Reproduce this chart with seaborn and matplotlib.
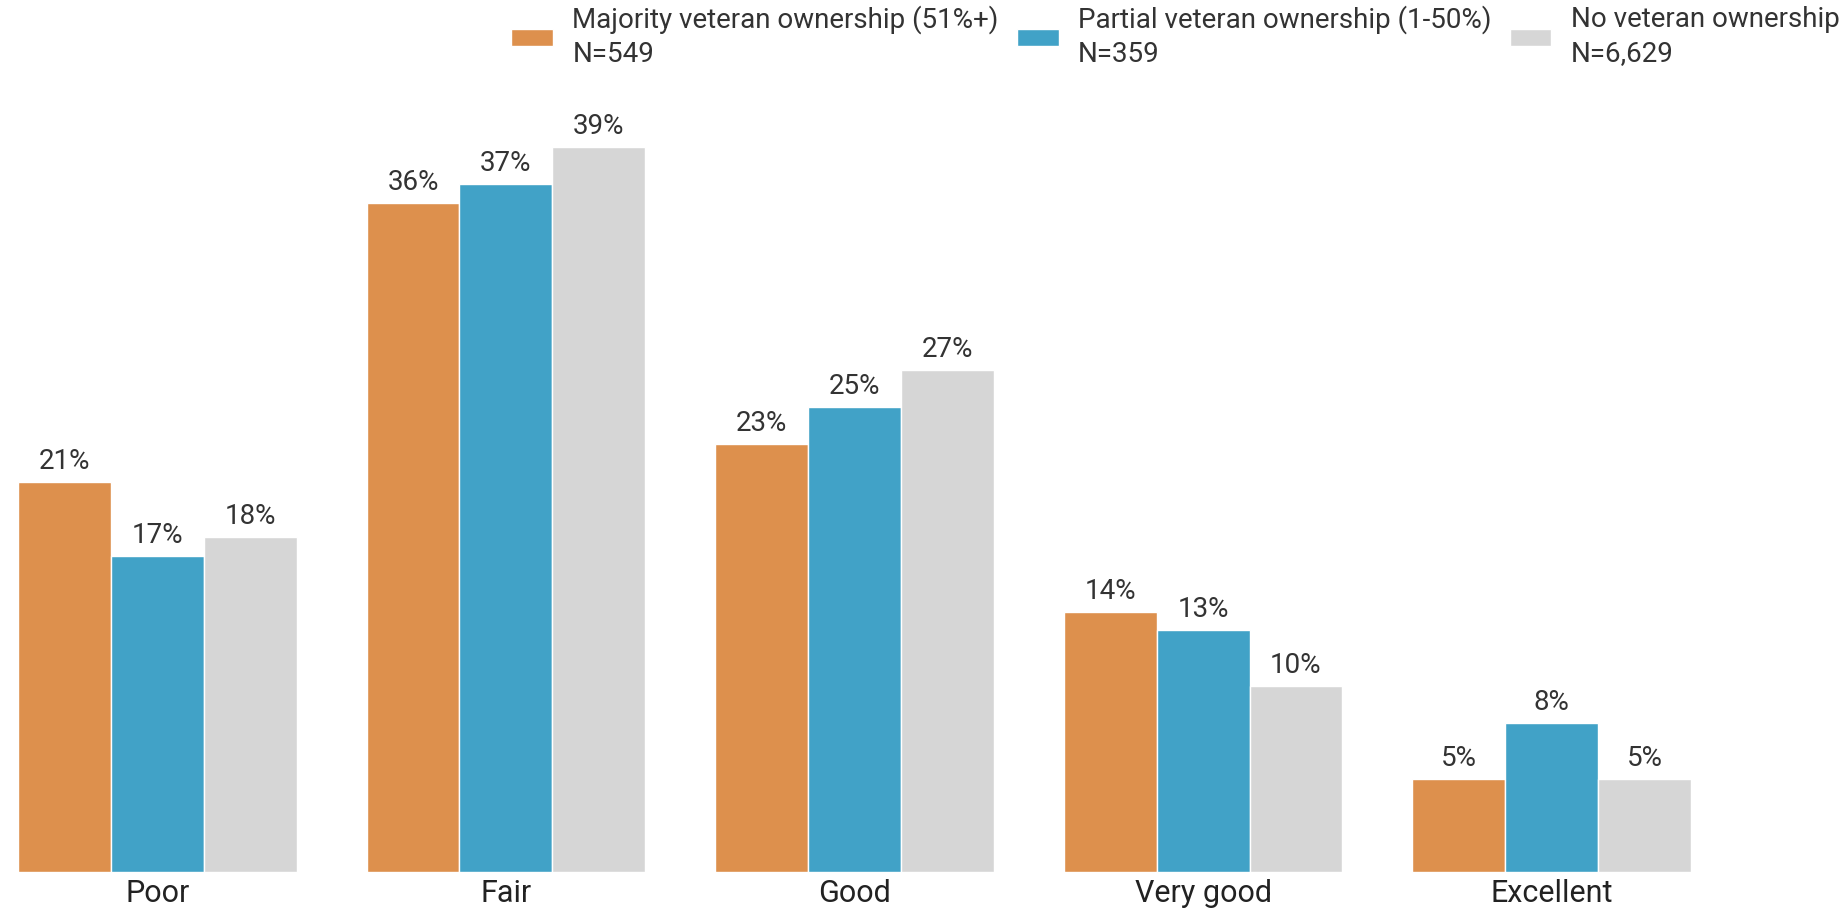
import numpy as np
import pandas as pd
import matplotlib
matplotlib.use("Agg")
import matplotlib.pyplot as plt
import seaborn as sns

# data
ratings = ["Poor", "Fair", "Good", "Very good", "Excellent"]
groups = [
    "Majority veteran ownership (51%+)\nN=549",
    "Partial veteran ownership (1-50%)\nN=359",
    "No veteran ownership\nN=6,629",
]
majority = [21, 36, 23, 14, 5]
partial = [17, 37, 25, 13, 8]
none_vet = [18, 39, 27, 10, 5]
colors = ["#DD904D", "#41A2C7", "#D6D6D6"]

rows = []
for g, vals in zip(groups, [majority, partial, none_vet]):
    for r, v in zip(ratings, vals):
        rows.append({"rating": r, "group": g, "pct": v})
df = pd.DataFrame(rows)

sns.set_style("white")
plt.rcParams["font.family"] = ["Roboto", "DejaVu Sans"]

fig = plt.figure(figsize=(18.45, 9.14), dpi=100)
ax = fig.add_axes([18 / 1845, 42 / 914, 1673 / 1845, 40 * 18.59 / 914])

sns.barplot(data=df, x="rating", y="pct", hue="group", order=ratings,
            hue_order=groups, palette=colors, saturation=1, width=0.8,
            edgecolor="white", linewidth=1, ax=ax)

for c in ax.containers:
    ax.bar_label(c, fmt="%d%%", padding=5, fontsize=20, color="#333333")

ax.set_xlim(-0.4, 4.4)
ax.set_ylim(0, 40)
ax.set_xlabel("")
ax.set_ylabel("")
ax.set_yticks([])
ax.tick_params(axis="x", length=0, pad=5, labelsize=22, labelcolor="#222222")
sns.despine(ax=ax, left=True, bottom=True)

handles, labels = ax.get_legend_handles_labels()
ax.get_legend().remove()
leg = fig.legend(handles, labels, loc="upper right", bbox_to_anchor=(1.0, 1.0),
                 ncol=3, frameon=False, fontsize=20, handlelength=1.5,
                 handleheight=0.58, handletextpad=0.7, columnspacing=0.65,
                 borderaxespad=0.1, borderpad=0.1, labelcolor="#333333")
for t in leg.get_texts():
    t.set_linespacing(1.3)

fig.savefig("out.png", dpi=100)
